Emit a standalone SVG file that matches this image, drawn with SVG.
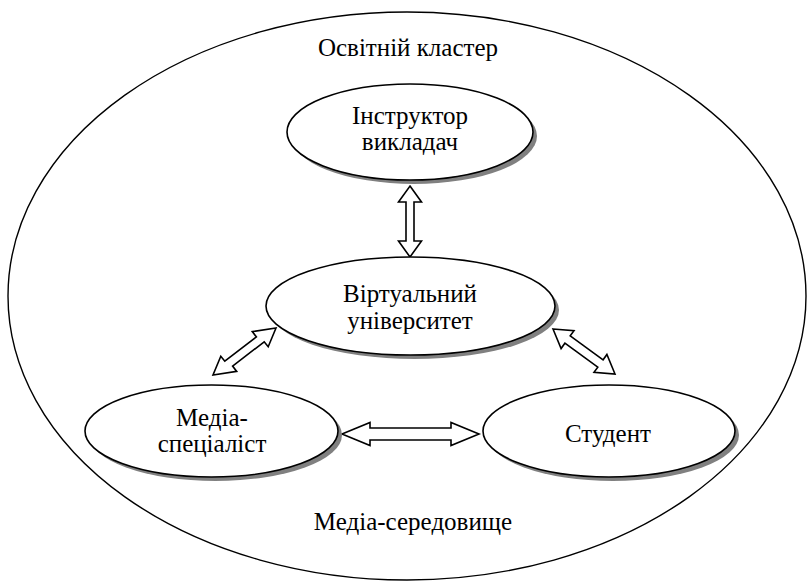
<svg xmlns="http://www.w3.org/2000/svg" width="809" height="581" viewBox="0 0 809 581">
<style>
text{font-family:"Liberation Serif","Times New Roman",serif;font-size:25px;fill:#000;text-anchor:middle}
.sh{fill:#808080;stroke:none}
.nd{fill:#fff;stroke:#000;stroke-width:1.6}
.ar{fill:#fff;stroke:#000;stroke-width:1.6;stroke-linejoin:miter}
</style>
<rect width="809" height="581" fill="#fff"/>
<g id="cluster">
<ellipse cx="407" cy="296" rx="399" ry="284" fill="none" stroke="#000" stroke-width="1.4"/>
<text x="408" y="56">Освітній кластер</text>
<text x="413" y="530">Медіа-середовище</text>
</g>
<g id="connectors">
<polygon class="ar" points="410,186 421.5,202 414,202 414,241 421.5,241 410,257 398.5,241 406,241 406,202 398.5,202"/>
<polygon class="ar" points="342,434 370,422.5 370,428 451,428 451,422.5 479,434 451,445.5 451,440 370,440 370,445.5"/>
<polygon class="ar" points="553,329 574,330.7 570.2,335.9 603.1,359.8 606.9,354.5 615,374 594,372.3 597.8,367.1 564.9,343.2 561.1,348.5"/>
<polygon class="ar" points="276,328 268.2,346.8 264.2,341.8 232.6,366.1 236.7,371.4 213,375 220.8,356.2 224.8,361.2 256.4,336.9 252.3,331.6"/>
</g>
<g id="instructor">
<ellipse class="sh" cx="414" cy="136" rx="123" ry="48"/>
<ellipse class="nd" cx="410" cy="132" rx="123" ry="48"/>
<text x="410" y="124">Інструктор</text>
<text x="410" y="150">викладач</text>
</g>
<g id="virtual">
<ellipse class="sh" cx="414.5" cy="310" rx="144.5" ry="49"/>
<ellipse class="nd" cx="410.5" cy="306" rx="144.5" ry="49"/>
<text x="410" y="302">Віртуальний</text>
<text x="410" y="329">університет</text>
</g>
<g id="media">
<ellipse class="sh" cx="215.5" cy="435" rx="126.5" ry="46"/>
<ellipse class="nd" cx="211.5" cy="431" rx="126.5" ry="46"/>
<text x="212" y="426">Медіа-</text>
<text x="212" y="452">спеціаліст</text>
</g>
<g id="student">
<ellipse class="sh" cx="613" cy="435" rx="126" ry="46"/>
<ellipse class="nd" cx="609" cy="431" rx="126" ry="46"/>
<text x="608" y="442">Студент</text>
</g>
</svg>
